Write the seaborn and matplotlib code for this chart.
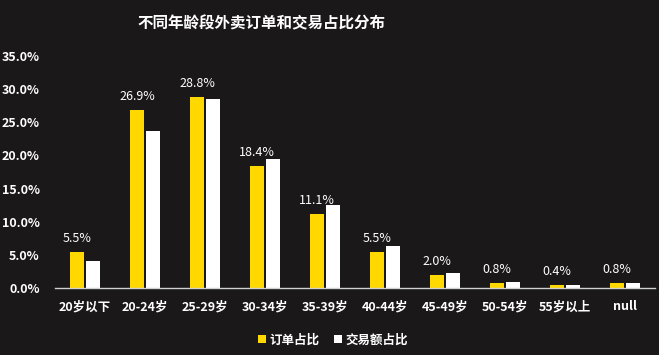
import matplotlib
import numpy as np
import pandas as pd
import seaborn as sns

matplotlib.use("Agg")
import matplotlib.pyplot as plt


BG = "#1a1818"
YELLOW = "#FFD800"
WHITE = "#FFFFFF"

age_groups = ["20岁以下", "20-24岁", "25-29岁", "30-34岁", "35-39岁",
              "40-44岁", "45-49岁", "50-54岁", "55岁以上", "null"]
order_share = [5.5, 26.9, 28.8, 18.4, 11.1, 5.5, 2.0, 0.8, 0.4, 0.8]
amount_share = [4.1, 23.7, 28.5, 19.5, 12.5, 6.4, 2.3, 0.95, 0.5, 0.75]
series_names = ["订单占比", "交易额占比"]
y_ticks = [0, 5, 10, 15, 20, 25, 30, 35]


def setup_style() -> None:
    sns.set_theme(style="white")
    plt.rcParams["font.family"] = ["Noto Sans CJK SC", "DejaVu Sans"]
    plt.rcParams["axes.unicode_minus"] = False
    plt.rcParams["figure.facecolor"] = BG
    plt.rcParams["axes.facecolor"] = BG
    plt.rcParams["savefig.facecolor"] = BG


def main() -> None:
    setup_style()
    df = pd.DataFrame({
        "age": age_groups * 2,
        "share": order_share + amount_share,
        "series": [series_names[0]] * len(age_groups) + [series_names[1]] * len(age_groups),
    })

    fig = plt.figure(figsize=(6.59, 3.55), dpi=100)
    ax = fig.add_axes([55 / 659, 1 - 288 / 355, 600 / 659, (288 - 56) / 355])
    sns.barplot(
        data=df, x="age", y="share", hue="series", order=age_groups,
        hue_order=series_names, palette=[YELLOW, WHITE], width=0.52, gap=0.1,
        saturation=1, linewidth=0, ax=ax,
    )

    ax.bar_label(ax.containers[0], labels=[f"{v:.1f}%" for v in order_share],
                 padding=5, color=WHITE, fontsize=9)

    ax.set_ylim(0, 35)
    ax.set_xlim(-0.5, len(age_groups) - 0.5)
    ax.set_yticks(y_ticks)
    ax.set_yticklabels([f"{t:.1f}%" for t in y_ticks])
    ax.set_xlabel("")
    ax.set_ylabel("")
    ax.tick_params(axis="both", length=0, colors=WHITE, labelsize=9)
    ax.tick_params(axis="x", pad=9)
    ax.tick_params(axis="y", pad=11)
    for lbl in ax.get_xticklabels() + ax.get_yticklabels():
        lbl.set_fontweight("bold")
    for side in ["top", "right", "left"]:
        ax.spines[side].set_visible(False)
    ax.spines["bottom"].set_color("#d0d0d0")
    ax.spines["bottom"].set_linewidth(1)

    sns.move_legend(
        ax, "center", bbox_to_anchor=(333 / 659, 1 - 340 / 355),
        bbox_transform=fig.transFigure, ncol=2, frameon=False, title=None,
        handlelength=0.6, handleheight=0.6, handletextpad=0.3, columnspacing=1.2,
        fontsize=9,
    )
    for txt in ax.get_legend().get_texts():
        txt.set_color(WHITE)
        txt.set_fontweight("bold")

    fig.text(262 / 659, 1 - 23 / 355, "不同年龄段外卖订单和交易占比分布",
             ha="center", va="center", color=WHITE, fontsize=11.2, fontweight="heavy")

    fig.savefig("out.png", dpi=100)
    plt.close(fig)


if __name__ == "__main__":
    main()
